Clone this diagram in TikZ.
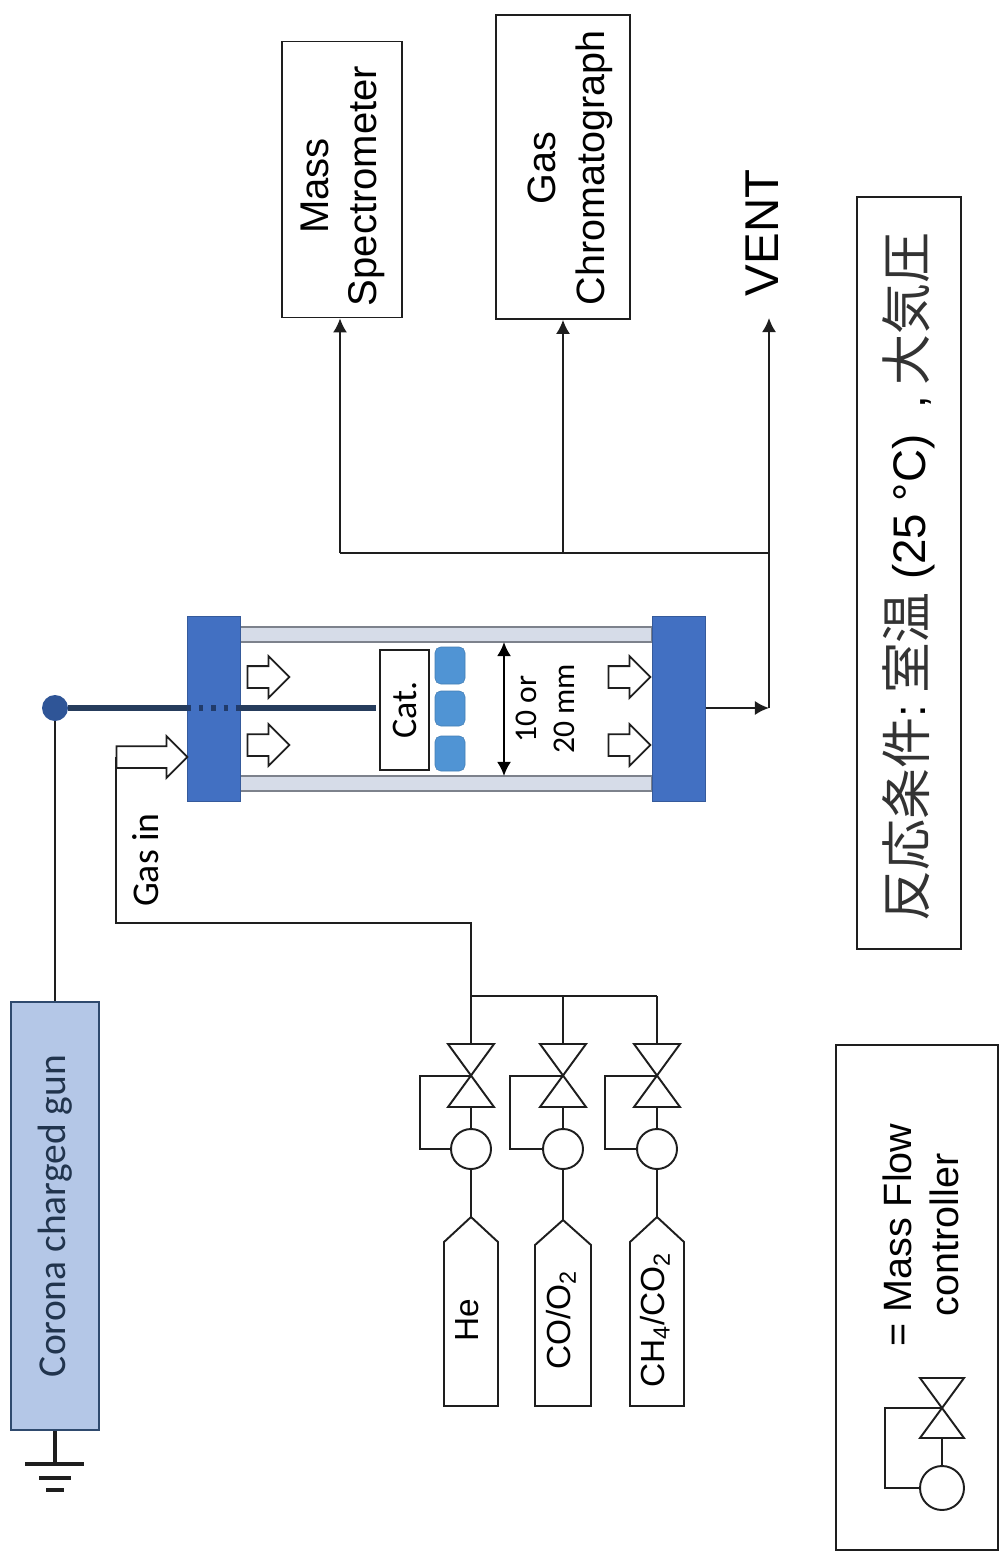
\documentclass[tikz,border=0pt]{standalone}
\usepackage{fontspec}
\usepackage{tikz}
\usetikzlibrary{shapes,arrows.meta,positioning,calc}
\setmainfont{Liberation Sans}
\newfontfamily\calfont{Carlito}
\newfontfamily\cjk{Noto Sans CJK JP}
\definecolor{flangeblue}{RGB}{66,112,194}
\definecolor{dotblue}{RGB}{47,85,151}
\definecolor{wireblue}{RGB}{38,60,92}
\definecolor{railfill}{RGB}{214,220,232}
\definecolor{railedge}{RGB}{125,130,140}
\definecolor{catblue}{RGB}{80,148,212}
\definecolor{gunfill}{RGB}{180,199,231}
\definecolor{gunedge}{RGB}{47,74,110}
\definecolor{pipegray}{RGB}{30,30,30}
\tikzset{
    box/.style={rectangle, draw=pipegray, fill=white, line width=1pt, inner sep=0pt, align=center, rotate=90},
    flange/.style={rectangle, draw=flangeblue!80!black, fill=flangeblue, inner sep=0pt, minimum width=53*0.02cm, minimum height=185*0.02cm},
    rail/.style={rectangle, draw=railedge, fill=railfill, line width=1pt, inner sep=0pt, minimum width=412*0.02cm, minimum height=15*0.02cm},
    pellet/.style={rectangle, rounded corners=3.2pt, fill=catblue, draw=catblue!85!black, line width=0.3pt, inner sep=0pt, minimum width=30*0.02cm},
    flowarrow/.style={single arrow, draw=pipegray, fill=white, line width=1pt, inner xsep=0pt, inner ysep=10*0.02cm, minimum width=40*0.02cm, single arrow head extend=10*0.02cm},
    pipe/.style={line width=1.1pt, pipegray},
    flow/.style={line width=1.1pt, pipegray, -{Latex[length=8pt,width=8pt]}},
    wire/.style={line width=3pt, wireblue},
    gnd/.style={line width=2pt, pipegray},
    meter/.style={circle, draw=pipegray, fill=white, line width=1.1pt, inner sep=0pt, minimum size=40*0.02cm},
    txt/.style={rotate=90, inner sep=0pt, align=center},
}
\begin{document}
\begin{tikzpicture}[x=0.02cm, y=-0.02cm]
    \useasboundingbox (0,0) rectangle (1001,1551);

    % Gun and ground
    \node[rectangle, rotate=90, draw=gunedge, fill=gunfill, line width=1pt, inner sep=0pt, minimum width=428*0.02cm, minimum height=88*0.02cm, text=gunedge!70!black, font=\calfont\fontsize{22.5}{26}\selectfont] (Gun) at (55,1216) {Corona charged gun};
    \node[circle, fill=dotblue, inner sep=0pt, minimum size=26*0.02cm] (GunDot) at (55,708) {};
    \draw[pipe] (Gun.east) -- (GunDot);
    \coordinate (Gnd) at (55,1464);
    \draw[gnd] (Gun.west) -- (Gnd);
    \draw[gnd] (25,1464) -- (84,1464);
    \draw[gnd] (39,1478) -- (71,1478);
    \draw[gnd] (46,1490) -- (64,1490);

    % Reactor
    \node[rail] (RailA) at (446,634.5) {};
    \node[rail] (RailB) at (446,783.5) {};
    \node[flange] (FlangeA) at (213.5,708.5) {};
    \node[flange] (FlangeB) at (679,708.5) {};
    \node[box, minimum width=120*0.02cm, minimum height=49*0.02cm, font=\calfont\fontsize{20.5}{24}\selectfont] (Cat) at (404.5,710) {Cat.};
    \foreach \y/\h/\label in {665.5/37/1, 708.5/35/2, 753.5/35/3} {
        \node[pellet, minimum height=\h*0.02cm] (Pellet\label) at (450,\y) {};
    }
    \draw[wire] (GunDot) -- (FlangeA.west |- GunDot);
    \draw[wire, dotblue!70!black, dash pattern=on 2.5pt off 4.5pt] (FlangeA.west |- GunDot) -- (FlangeA.east |- GunDot);
    \draw[wire] (FlangeA.east |- GunDot) -- ([xshift=-3*0.02cm]Cat.north |- GunDot);

    % Flow arrows in the tube
    \foreach \x/\y/\label in {263/677/1, 263/745/2, 624/677/3, 624/745/4} {
        \node[flowarrow, minimum height=42*0.02cm] (Flow\label) at (\x,\y) {};
    }
    \coordinate (DimA) at (504,642);
    \coordinate (DimB) at (504,776);
    \draw[line width=1.3pt, black, {Latex[length=8pt,width=8pt]}-{Latex[length=8pt,width=8pt]}] (DimA) -- (DimB);
    \node[txt, font=\calfont\fontsize{18}{21.5}\selectfont] (DimLabel) at (545,709) {10 or\\20 mm};

    % Gas in
    \node[flowarrow, minimum height=71*0.02cm] (GasArrow) at (146.5,757) {};
    \node[txt, font=\calfont\fontsize{21.5}{25}\selectfont] (GasLabel) at (146,860) {Gas in};
    \coordinate (GasIn) at (116,923);
    \coordinate (Tee) at (471,996);
    \draw[pipe] (GasIn |- GasArrow.tail) -- (GasIn) -- (GasIn -| Tee) -- (Tee);
    \draw[pipe] (Tee) -- (657,996);

    % Gas lines
    \foreach \x/\n/\lft/\tip/\half/\gas in {471/He/420/1217/27/He, 563/CO/510/1220/28/{CO/O\textsubscript{2}}, 657/CH/605/1217/27/{CH\textsubscript{4}/CO\textsubscript{2}}} {
        \coordinate (T\n) at (\x,996);
        \coordinate (Vt\n) at (\x,1044);
        \coordinate (Vb\n) at (\x,1107);
        \coordinate (Vc\n) at (\x,1076);
        \coordinate (Ct\n) at (\x,\tip);
        \node[meter] (M\n) at (\x,1149) {};
        \draw[pipe] (T\n) -- (Vt\n);
        \draw[pipe] ({\x-23},1044) -- ({\x+23},1044) -- ({\x-23},1107) -- ({\x+23},1107) -- cycle;
        \draw[pipe] (Vb\n) -- (M\n);
        \draw[pipe] (Vc\n) -- (\lft,1076) -- (\lft,1149) -- (M\n.west);
        \draw[pipe] (M\n) -- (Ct\n);
        \draw[pipe] (Ct\n) -- ({\x+\half},{\tip+25}) -- ({\x+\half},1406) -- ({\x-\half},1406) -- ({\x-\half},{\tip+25}) -- cycle;
        \node[txt, anchor=base, font=\fontsize{19}{22}\selectfont] (Gas\n) at ({\x+7},1320) {\gas};
    }

    % Outlet
    \node[box, minimum width=276*0.02cm, minimum height=120*0.02cm] (MS) at (342,179.5) {};
    \node[txt, font=\fontsize{22.8}{27}\selectfont] (MSLabel) at (343,186) {Mass\hspace{5.5pt}\\Spectrometer};
    \node[box, minimum width=304*0.02cm, minimum height=134*0.02cm] (GC) at (563,167) {};
    \node[txt, font=\fontsize{22.5}{28}\selectfont] (GCLabel) at (570,168) {Gas\hspace{2pt}\\Chromatograph};
    \node[txt, anchor=base, font=\fontsize{27}{32}\selectfont] (Vent) at (778,233) {VENT};
    \coordinate (JMS) at (340,553);
    \coordinate (JGC) at (563,553);
    \coordinate (JV) at (769,553);
    \coordinate (Out) at (769,708);
    \coordinate (VentEnd) at (769,318);
    \draw[flow] (FlangeB.east |- Out) -- (Out);
    \draw[flow] (Out) -- (VentEnd);
    \draw[pipe] (JMS) -- (JV);
    \draw[flow] (JMS) -- (JMS |- MS.west);
    \draw[flow] (JGC) -- (GC.west);

    % Conditions
    \node[box, minimum width=752*0.02cm, minimum height=104*0.02cm] (Cond) at (909,573) {};
    \node[txt, font=\fontsize{26}{30}\selectfont] (CondText) at (909,577) {{\cjk\fontsize{29}{30}\selectfont\color{black!80} 反応条件}:\hspace{6pt}{\cjk\fontsize{29}{30}\selectfont\color{black!80} 室温}\hspace{7pt}(25 °C)\hspace{15pt},\hspace{5.5pt}{\cjk\fontsize{29}{30}\selectfont\color{black!80} 大気圧}};

    % Legend
    \node[box, minimum width=505*0.02cm, minimum height=162*0.02cm] (Legend) at (917,1297.5) {};
    \node[txt, font=\fontsize{22.5}{27}\selectfont] (LegendText) at (921,1235) {= Mass Flow\\controller};
    \node[meter, minimum size=44*0.02cm] (MFC) at (942,1488) {};
    \coordinate (Vc) at (942,1408);
    \coordinate (Vb) at (942,1438);
    \draw[pipe] (920,1378) -- (964,1378) -- (920,1438) -- (964,1438) -- cycle;
    \draw[pipe] (Vb) -- (MFC);
    \draw[pipe] (Vc) -- (885,1408) -- (885,1488) -- (MFC.west);
\end{tikzpicture}
\end{document}
